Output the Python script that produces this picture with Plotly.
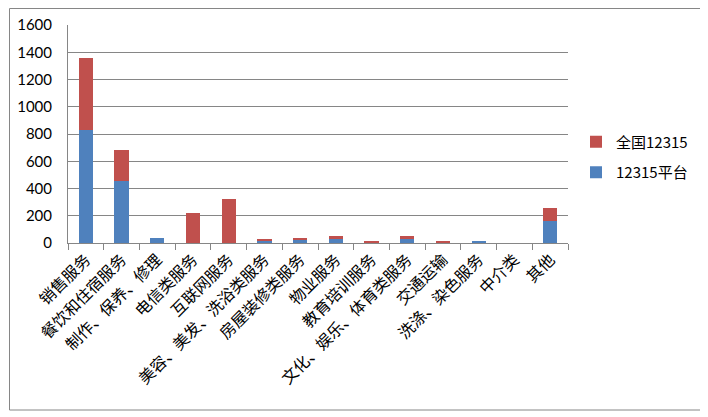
import plotly.graph_objects as go

categories = ["销售服务", "餐饮和住宿服务", "制作、保养、修理", "电信类服务", "互联网服务",
              "美容、美发、洗浴类服务", "房屋装修类服务", "物业服务", "教育培训服务",
              "文化、娱乐、体育类服务", "交通运输", "洗涤、染色服务", "中介类", "其他"]
platform_12315 = [832, 452, 34, 0, 0, 16, 28, 32, 0, 32, 0, 9, 0, 160]
national_12315 = [528, 233, 0, 218, 326, 10, 5, 22, 8, 22, 8, 0, 0, 100]
y_ticks = [0, 200, 400, 600, 800, 1000, 1200, 1400, 1600]

grey = "#868686"
fig = go.Figure()
fig.add_trace(go.Bar(x=categories, y=platform_12315, name="12315平台", marker_color="#4F81BD",
                     marker_line_width=0, legendgroup="b", legendrank=2))
fig.add_trace(go.Bar(x=categories, y=national_12315, name="全国12315", marker_color="#C0504D",
                     marker_line_width=0, legendgroup="a", legendrank=1))

# page body has an 8px margin, so the figure is 700x409 and offsets are shifted by 8px
W, H = 700, 409
L, R, T, B = 60, 140, 17, 174
pw, ph = W - L - R, H - T - B

def px(x):
    return (x - L) / pw

def py(y):
    return (H - B - y) / ph

fig.update_layout(
    width=W, height=H,
    barmode="stack", bargap=0.6,
    plot_bgcolor="white", paper_bgcolor="white",
    margin=dict(l=L, r=R, t=T, b=B, autoexpand=False),
    showlegend=True,
    legend=dict(x=px(568), y=py(149), xanchor="left", yanchor="middle", traceorder="grouped",
                font=dict(family="Noto Sans CJK SC", size=15, color="black"),
                itemwidth=30, tracegroupgap=8, bgcolor="rgba(0,0,0,0)"),
    xaxis=dict(showline=True, linecolor=grey, linewidth=1, ticks="outside", ticklen=6,
               tickcolor=grey, tickson="boundaries", tickangle=-45,
               tickfont=dict(family="Noto Sans CJK SC", size=16, color="black"),
               showgrid=False),
    yaxis=dict(range=[0, 1600], tickvals=y_ticks, showline=True, linecolor=grey, linewidth=1,
               showgrid=True, gridcolor=grey, gridwidth=1, zeroline=False,
               tickfont=dict(family="Lato", size=15, color="black"), ticks="", ticklabelstandoff=12),
    shapes=[dict(type="rect", xref="paper", yref="paper", x0=px(1.5), x1=px(693.5),
                 y0=py(402), y1=py(0.5),
                 line=dict(color=grey, width=1), fillcolor="rgba(0,0,0,0)", layer="below")],
)
fig.write_html("out.html")
